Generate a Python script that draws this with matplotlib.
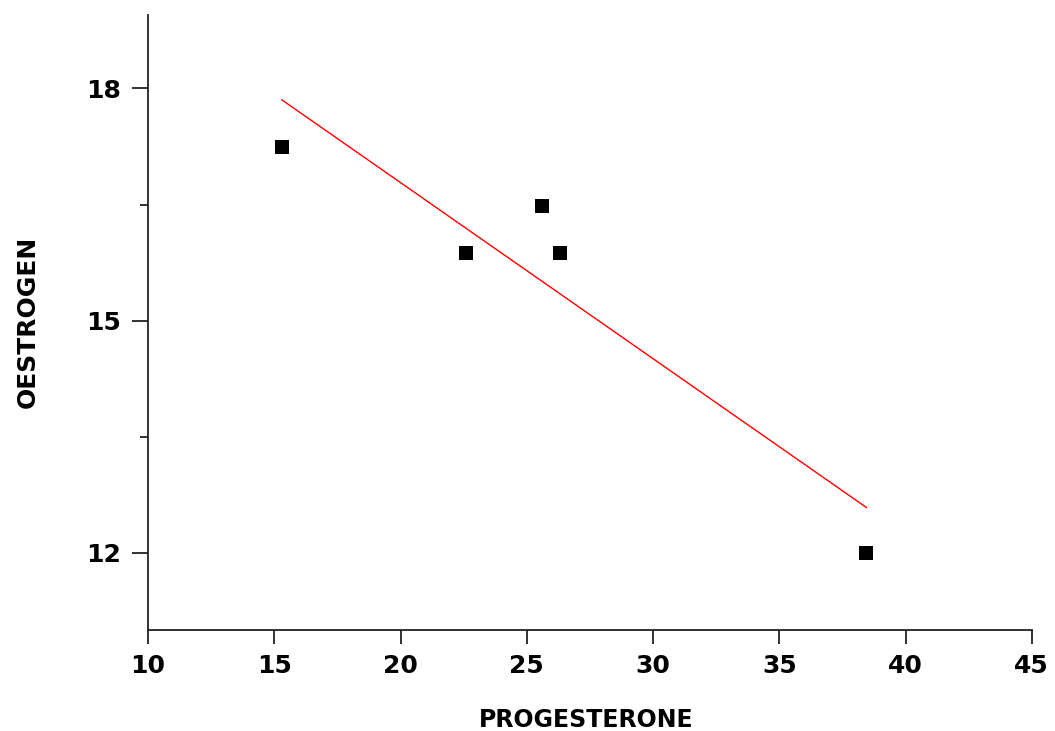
import numpy as np
import matplotlib
matplotlib.use("Agg")
import matplotlib.pyplot as plt
from matplotlib.ticker import MultipleLocator

progesterone = [15.3, 22.6, 25.6, 26.3, 38.45]
oestrogen = [17.25, 15.88, 16.48, 15.88, 12.0]
x_ticks = [10, 15, 20, 25, 30, 35, 40, 45]
y_ticks = [12, 15, 18]

plt.rcParams['font.family'] = ['DejaVu Sans']
plt.rcParams['font.weight'] = 'bold'

fig = plt.figure(figsize=(10.55, 7.31), dpi=100)
ax = fig.add_axes([0.1403, 0.138, 0.978 - 0.1403, 0.9795 - 0.138])

x = np.array(progesterone)
y = np.array(oestrogen)
ax.scatter(x, y, marker='s', s=110, color='black', zorder=3, linewidths=0)
slope, intercept = np.polyfit(x, y, 1)
xf = np.array([x.min(), x.max()])
ax.plot(xf, slope * xf + intercept, color='red', lw=1.0)

ax.set_xlim(10, 45)
ax.set_ylim(11, 18.95)
ax.set_xticks(x_ticks)
ax.set_yticks(y_ticks)
ax.yaxis.set_minor_locator(MultipleLocator(1.5))

for s in ['top', 'right']:
    ax.spines[s].set_visible(False)
for s in ['left', 'bottom']:
    ax.spines[s].set_linewidth(1.3)
    ax.spines[s].set_color('#222222')

ax.tick_params(axis='x', which='major', direction='out', length=10, width=1.3,
               labelsize=18, pad=7, colors='#222222', labelcolor='black')
ax.tick_params(axis='y', which='major', direction='out', length=11.5, width=1.3,
               labelsize=18, pad=8, colors='#222222', labelcolor='black')
ax.tick_params(axis='y', which='minor', direction='out', length=5.5, width=1.3,
               colors='#222222')
for lab in ax.get_xticklabels() + ax.get_yticklabels():
    lab.set_fontweight('bold')

fig.text(0.556, 0.006, 'PROGESTERONE', ha='center', va='baseline',
         fontsize=17, fontweight='bold')
fig.text(0.026, 0.5595, 'OESTROGEN', rotation=90, ha='center', va='center',
         fontsize=18, fontweight='bold')

fig.savefig('out.png', dpi=100)
